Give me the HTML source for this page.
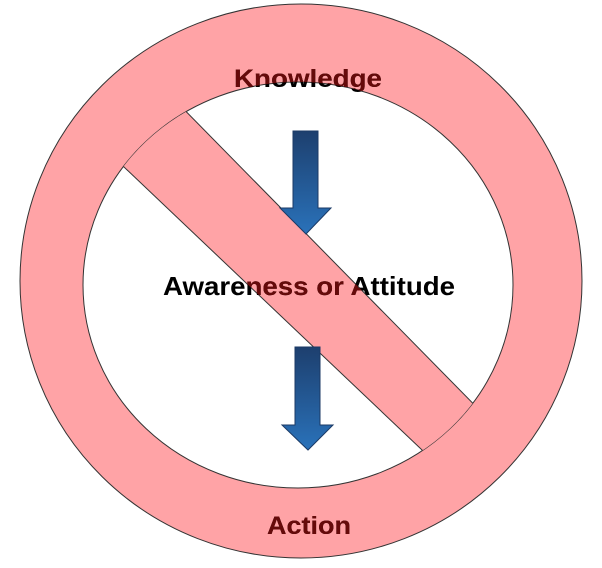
<!DOCTYPE html>
<html><head><style>body{margin:0;background:#fff}svg{display:block}</style></head>
<body>
<svg width="602" height="568" viewBox="0 0 602 568" xmlns="http://www.w3.org/2000/svg">
<defs>
<clipPath id="inner"><ellipse cx="298" cy="285" rx="215" ry="203"/></clipPath>
<clipPath id="pink">
<path clip-rule="evenodd" d="M20,281 a281,277 0 1,0 562,0 a281,277 0 1,0 -562,0 Z M83,285 a215,203 0 1,0 430,0 a215,203 0 1,0 -430,0 Z"/>
<polygon points="160,85 505,436 460,486 85,130" clip-path="url(#inner)"/>
</clipPath>
<linearGradient id="g" x1="0" y1="0" x2="0" y2="1">
<stop offset="0" stop-color="#1d3f6e"/><stop offset="1" stop-color="#2a72ba"/></linearGradient>
</defs>
<ellipse cx="301" cy="281" rx="281" ry="277" fill="#ffa3a6" stroke="#333" stroke-width="1"/>
<ellipse cx="298" cy="285" rx="215" ry="203" fill="#fff" stroke="#333" stroke-width="1"/>
<g clip-path="url(#inner)">
<polygon points="160,85 505,436 460,486 85,130" fill="#ffa3a6"/>
<line x1="160" y1="85" x2="505" y2="436" stroke="#333" stroke-width="1"/>
<line x1="85" y1="130" x2="460" y2="486" stroke="#333" stroke-width="1"/>
</g>
<g stroke="#1b3a66" stroke-width="1" fill="url(#g)">
<polygon points="293,131 318,131 318,208 331,208 306,234 280,208 293,208"/>
<polygon points="295,347 320,347 320,425 333,425 308,450 282,425 295,425"/>
</g>
<g font-family="'Liberation Sans',sans-serif" font-weight="bold" text-anchor="middle" fill="#000">
<text x="308" y="87" font-size="25" textLength="148" lengthAdjust="spacingAndGlyphs">Knowledge</text>
<text x="309" y="295" font-size="26" textLength="292" lengthAdjust="spacingAndGlyphs">Awareness or Attitude</text>
<text x="309" y="534" font-size="25" textLength="84" lengthAdjust="spacingAndGlyphs">Action</text>
</g>
<g clip-path="url(#pink)" font-family="'Liberation Sans',sans-serif" font-weight="bold" text-anchor="middle" fill="#660a0a">
<text x="308" y="87" font-size="25" textLength="148" lengthAdjust="spacingAndGlyphs">Knowledge</text>
<text x="309" y="295" font-size="26" textLength="292" lengthAdjust="spacingAndGlyphs">Awareness or Attitude</text>
<text x="309" y="534" font-size="25" textLength="84" lengthAdjust="spacingAndGlyphs">Action</text>
</g>
</svg>
</body></html>
